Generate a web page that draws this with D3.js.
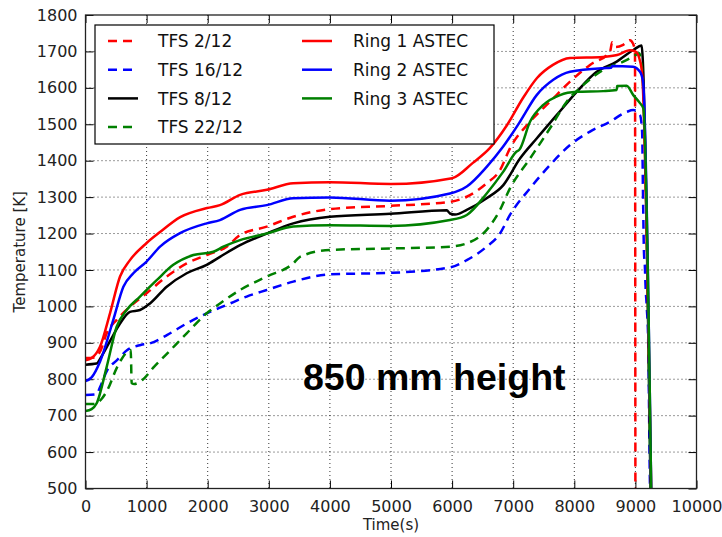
<!DOCTYPE html>
<html><head><meta charset="utf-8">
<script src="https://cdn.jsdelivr.net/npm/d3@7"></script>
<style>body{margin:0;background:#fff}</style>
</head><body>
<svg id="c" width="722" height="537"></svg>
<script>
const xTicks = [0,1000,2000,3000,4000,5000,6000,7000,8000,9000,10000];
const yTicks = [500,600,700,800,900,1000,1100,1200,1300,1400,1500,1600,1700,1800];

const tfs2 = [[0,858],[150,860],[250,880],[347,926],[510,963],[728,999],[1000,1036],[1329,1082],[1656,1118],[1983,1141],[2311,1164],[2529,1196],[2966,1219],[3400,1246],[4000,1267],[4990,1276],[5965,1287],[6240,1301],[6566,1338],[6784,1374],[6947,1434],[7275,1507],[7602,1562],[7930,1617],[8257,1663],[8584,1699],[8620,1725],[8680,1712],[8800,1718],[8911,1731],[8960,1722],[8993,1700],[9000,480]];
const tfs16 = [[0,757],[183,759],[230,775],[357,825],[520,853],[684,880],[903,894],[1067,899],[1339,922],[1656,953],[1983,981],[2311,1004],[2638,1027],[2966,1045],[3400,1068],[4000,1088],[4990,1092],[5965,1107],[6240,1127],[6566,1164],[6784,1200],[6947,1251],[7275,1324],[7602,1388],[7930,1443],[8257,1480],[8584,1507],[8857,1534],[8966,1539],[9075,1525],[9110,1480],[9125,1300],[9140,1150],[9155,1110],[9165,1060],[9185,1000],[9210,900],[9240,500],[9245,480]];
const tfs8 = [[0,840],[183,843],[260,862],[412,908],[565,953],[728,985],[892,990],[1055,1008],[1329,1054],[1656,1091],[1983,1114],[2201,1136],[2529,1168],[2966,1200],[3400,1228],[4000,1246],[4990,1254],[5912,1264],[5965,1255],[6048,1252],[6240,1265],[6566,1297],[6838,1333],[7111,1406],[7384,1461],[7711,1525],[8039,1589],[8366,1644],[8694,1672],[8966,1704],[9103,1716],[9120,1680],[9250,480]];
const tfs22 = [[0,732],[139,732],[249,743],[357,770],[520,834],[684,875],[740,880],[756,789],[800,787],[930,798],[1121,834],[1339,871],[1656,926],[1983,981],[2201,1008],[2529,1045],[2966,1082],[3400,1118],[3510,1136],[4000,1155],[4990,1159],[5965,1164],[6240,1173],[6566,1210],[6784,1265],[6947,1324],[7275,1406],[7602,1489],[7876,1562],[8148,1608],[8475,1649],[8802,1672],[8966,1686],[9060,1695],[9110,1650],[9250,480]];
const ring1 = [[0,852],[100,858],[237,889],[401,981],[565,1082],[728,1127],[1000,1174],[1220,1204],[1550,1245],[1990,1270],[2200,1278],[2530,1306],[2970,1320],[3400,1338],[4000,1341],[5000,1336],[6000,1352],[6340,1394],[6620,1435],[6900,1498],[7160,1572],[7390,1627],[7650,1663],[7930,1682],[8470,1685],[8700,1690],[8910,1703],[9000,1700],[9080,1671],[9110,1640],[9260,480]];
const ring2 = [[0,795],[100,805],[237,848],[455,963],[620,1054],[783,1091],[1000,1123],[1220,1164],[1547,1201],[1983,1228],[2200,1237],[2530,1265],[2966,1278],[3400,1297],[4000,1299],[4990,1290],[5965,1310],[6240,1329],[6566,1383],[6833,1438],[7111,1507],[7384,1580],[7656,1622],[7930,1644],[8470,1654],[8600,1655],[8620,1660],[8960,1658],[9075,1644],[9125,1617],[9260,480]];
const ring3 = [[0,713],[100,718],[183,734],[347,834],[510,944],[674,990],[892,1027],[1165,1072],[1437,1114],[1765,1141],[2092,1150],[2256,1164],[2529,1182],[2966,1200],[3400,1219],[4000,1223],[4990,1221],[5965,1237],[6240,1251],[6566,1310],[6838,1370],[7056,1425],[7100,1430],[7275,1507],[7493,1553],[7766,1580],[8039,1589],[8475,1591],[8694,1594],[8700,1605],[8857,1606],[8966,1580],[9075,1558],[9130,1544],[9260,480]];

const seriesNames = ["TFS 2/12","TFS 16/12","TFS 8/12","TFS 22/12","Ring 1 ASTEC","Ring 2 ASTEC","Ring 3 ASTEC"];
const seriesData = [tfs2, tfs16, tfs8, tfs22, ring1, ring2, ring3];
const seriesColors = ["#ff0000","#0000ff","#000000","#008000","#ff0000","#0000ff","#008000"];
const seriesDashed = [true,true,false,true,false,false,false];

const L=85.5, R=696.5, T=15, B=488.5;
const svg = d3.select("#c");
const x = d3.scaleLinear().domain([0,10000]).range([L,R]);
const y = d3.scaleLinear().domain([500,1800]).range([B,T]);
const font = "'DejaVu Sans', sans-serif";

svg.append("defs").append("clipPath").attr("id","clip")
  .append("rect").attr("x",L).attr("y",T).attr("width",R-L).attr("height",B-T);

// grid
const g = svg.append("g");
g.selectAll("line.gx").data(xTicks.slice(1,-1)).enter().append("line")
  .attr("x1",d=>x(d)).attr("x2",d=>x(d)).attr("y1",T).attr("y2",B)
  .attr("stroke","#000").attr("stroke-width",0.8).attr("stroke-dasharray","1,3");
g.selectAll("line.gy").data(yTicks.slice(1,-1)).enter().append("line")
  .attr("y1",d=>y(d)).attr("y2",d=>y(d)).attr("x1",L).attr("x2",R)
  .attr("stroke","#000").attr("stroke-width",0.8).attr("stroke-dasharray","1,3");

// axes with inward ticks
const ax = svg.append("g").attr("transform",`translate(0,${B})`)
  .call(d3.axisBottom(x).tickValues(xTicks).tickFormat(d3.format("d")).tickSizeInner(-8).tickSizeOuter(0).tickPadding(12));
const axT = svg.append("g").attr("transform",`translate(0,${T})`)
  .call(d3.axisTop(x).tickValues(xTicks).tickFormat("").tickSizeInner(-8).tickSizeOuter(0));
const ay = svg.append("g").attr("transform",`translate(${L},0)`)
  .call(d3.axisLeft(y).tickValues(yTicks).tickFormat(d3.format("d")).tickSizeInner(-8).tickSizeOuter(0).tickPadding(8));
const ayR = svg.append("g").attr("transform",`translate(${R},0)`)
  .call(d3.axisRight(y).tickValues(yTicks).tickFormat("").tickSizeInner(-8).tickSizeOuter(0));
[ax,axT,ay,ayR].forEach(a=>{
  a.select(".domain").remove();
  a.selectAll(".tick line").attr("stroke","#000").attr("stroke-width",1);
  a.selectAll("text").attr("font-family",font).attr("font-size",16).attr("fill","#222");
});

// lines
const line = d3.line().x(d=>x(d[0])).y(d=>y(d[1])).curve(d3.curveMonotoneX);
const lg = svg.append("g").attr("clip-path","url(#clip)");
seriesData.forEach((s,i)=>{
  lg.append("path").datum(s).attr("d",line).attr("fill","none")
    .attr("stroke",seriesColors[i]).attr("stroke-width",2.5)
    .attr("stroke-linejoin","round")
    .attr("stroke-dasharray",seriesDashed[i]?"9,6":null);
});

// frame
svg.append("rect").attr("x",L).attr("y",T).attr("width",R-L).attr("height",B-T)
  .attr("fill","none").attr("stroke","#222").attr("stroke-width",1.3);

// legend
const leg = svg.append("g");
leg.append("rect").attr("x",95).attr("y",25).attr("width",399).attr("height",119)
  .attr("fill","#fff").attr("stroke","#000").attr("stroke-width",1.2);
seriesNames.forEach((n,i)=>{
  const col = i<4?0:1, row = i<4?i:i-4;
  const lx = col===0?108:302, tx = col===0?158:353;
  const yy = 41 + row*28.7;
  leg.append("line").attr("x1",lx).attr("x2",lx+30).attr("y1",yy).attr("y2",yy)
    .attr("stroke",seriesColors[i]).attr("stroke-width",2.5)
    .attr("stroke-dasharray",seriesDashed[i]?"9,6":null);
  leg.append("text").attr("x",tx).attr("y",yy).attr("dy","0.36em")
    .attr("font-family",font).attr("font-size",17).attr("fill","#111").text(n);
});

// labels
svg.append("text").attr("x",(L+R)/2).attr("y",530).attr("text-anchor","middle")
  .attr("font-family",font).attr("font-size",15).attr("fill","#222").text("Time(s)");
svg.append("text").attr("transform",`translate(25,${(T+B)/2}) rotate(-90)`).attr("text-anchor","middle")
  .attr("font-family",font).attr("font-size",15).attr("fill","#222").text("Temperature [K]");
svg.append("text").attr("x",303).attr("y",390)
  .attr("font-family","'Liberation Sans', Arial, sans-serif").attr("font-weight","bold")
  .attr("font-size",37.5).attr("fill","#000").text("850 mm height");
</script>
</body></html>
